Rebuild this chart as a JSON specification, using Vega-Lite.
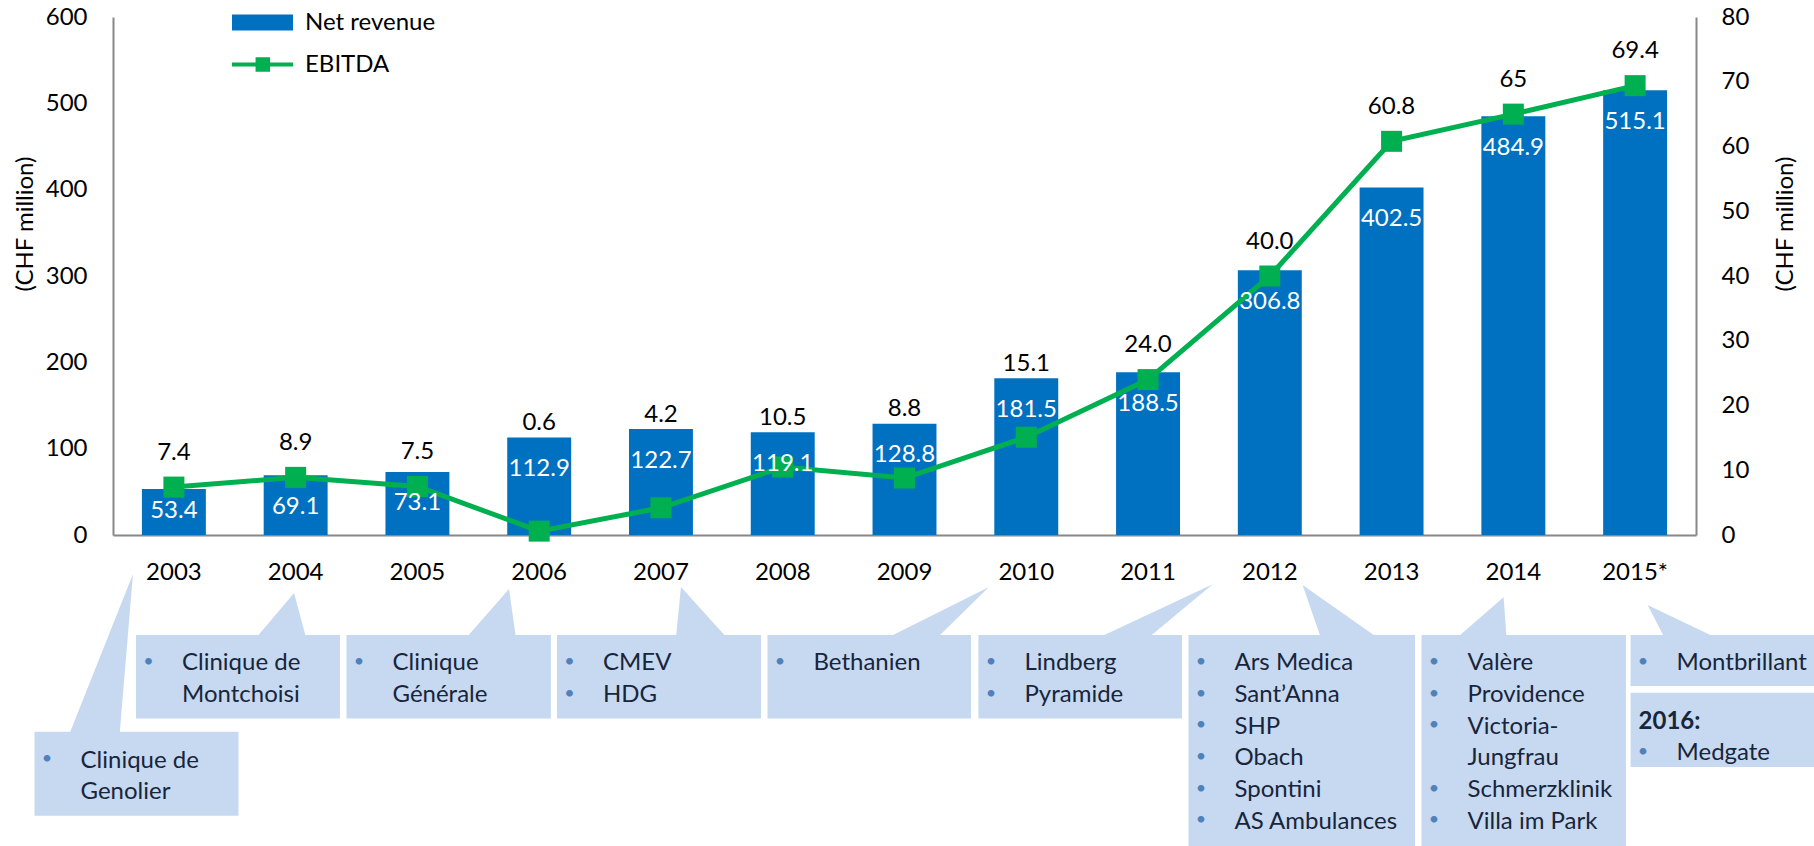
{
  "$schema": "https://vega.github.io/schema/vega-lite/v6.json",
  "width": 1583,
  "height": 829,
  "autosize": {"type": "none"},
  "padding": {"left": 113, "top": 17, "right": 118, "bottom": 0},
  "background": "white",
  "config": {
    "view": {"stroke": null},
    "font": "Lato",
    "axis": {"grid": false, "titleFontSize": 24},
    "text": {"font": "Lato"}
  },
  "datasets": {
    "fin": [
      {"year": "2003", "revenue": 53.4, "ebitda": 7.4, "elabel": "7.4"},
      {"year": "2004", "revenue": 69.1, "ebitda": 8.9, "elabel": "8.9"},
      {"year": "2005", "revenue": 73.1, "ebitda": 7.5, "elabel": "7.5"},
      {"year": "2006", "revenue": 112.9, "ebitda": 0.6, "elabel": "0.6"},
      {"year": "2007", "revenue": 122.7, "ebitda": 4.2, "elabel": "4.2"},
      {"year": "2008", "revenue": 119.1, "ebitda": 10.5, "elabel": "10.5"},
      {"year": "2009", "revenue": 128.8, "ebitda": 8.8, "elabel": "8.8"},
      {"year": "2010", "revenue": 181.5, "ebitda": 15.1, "elabel": "15.1"},
      {"year": "2011", "revenue": 188.5, "ebitda": 24.0, "elabel": "24.0"},
      {"year": "2012", "revenue": 306.8, "ebitda": 40.0, "elabel": "40.0"},
      {"year": "2013", "revenue": 402.5, "ebitda": 60.8, "elabel": "60.8"},
      {"year": "2014", "revenue": 484.9, "ebitda": 65, "elabel": "65"},
      {"year": "2015*", "revenue": 515.1, "ebitda": 69.4, "elabel": "69.4"}
    ],
    "boxes": [
      {"group": "2003", "c0": -0.482, "c1": 0.487, "r0": 6.21, "r1": 8.86},
      {"group": "2004", "c0": 0, "c1": 0.969, "r0": 3.155, "r1": 5.79},
      {"group": "2006", "c0": 1.0, "c1": 1.971, "r0": 3.155, "r1": 5.79},
      {"group": "2007", "c0": 2.0, "c1": 2.969, "r0": 3.155, "r1": 5.79},
      {"group": "2010", "c0": 3.0, "c1": 3.967, "r0": 3.155, "r1": 5.79},
      {"group": "2011", "c0": 4.002, "c1": 4.969, "r0": 3.155, "r1": 5.79},
      {"group": "2012", "c0": 5.0, "c1": 6.076, "r0": 3.155, "r1": 10},
      {"group": "2014", "c0": 6.107, "c1": 7.078, "r0": 3.155, "r1": 10},
      {"group": "2015", "c0": 7.1, "c1": 8.2, "r0": 3.155, "r1": 4.76},
      {"group": "2016", "c0": 7.1, "c1": 8.2, "r0": 4.98, "r1": 7.32}
    ],
    "pointers": [
      {"group": "2003", "r": 1.23, "c0": -0.0143, "c1": -0.0143},
      {"group": "2003", "r": 6.3, "c0": -0.318, "c1": -0.078},
      {"group": "2004", "r": 1.83, "c0": 0.751, "c1": 0.751},
      {"group": "2004", "r": 3.25, "c0": 0.570, "c1": 0.808},
      {"group": "2006", "r": 1.70, "c0": 1.772, "c1": 1.772},
      {"group": "2006", "r": 3.25, "c0": 1.568, "c1": 1.805},
      {"group": "2007", "r": 1.64, "c0": 2.589, "c1": 2.589},
      {"group": "2007", "r": 3.25, "c0": 2.565, "c1": 2.808},
      {"group": "2010", "r": 1.64, "c0": 4.052, "c1": 4.052},
      {"group": "2010", "r": 3.25, "c0": 3.568, "c1": 3.805},
      {"group": "2011", "r": 1.55, "c0": 5.115, "c1": 5.115},
      {"group": "2011", "r": 3.25, "c0": 4.570, "c1": 4.808},
      {"group": "2012", "r": 1.58, "c0": 5.542, "c1": 5.542},
      {"group": "2012", "r": 3.25, "c0": 5.629, "c1": 5.900},
      {"group": "2014", "r": 1.96, "c0": 6.497, "c1": 6.497},
      {"group": "2014", "r": 3.25, "c0": 6.274, "c1": 6.511},
      {"group": "2015", "r": 2.21, "c0": 7.181, "c1": 7.181},
      {"group": "2015", "r": 3.25, "c0": 7.262, "c1": 7.509}
    ],
    "items": [
      {"group": "2003", "c": -0.482, "r": 7.08, "kind": "item", "text": "Clinique de"},
      {"group": "2003", "c": -0.482, "r": 8.07, "kind": "cont", "text": "Genolier"},
      {"group": "2004", "c": 0, "r": 4, "kind": "item", "text": "Clinique de"},
      {"group": "2004", "c": 0, "r": 5, "kind": "cont", "text": "Montchoisi"},
      {"group": "2006", "c": 1.0, "r": 4, "kind": "item", "text": "Clinique"},
      {"group": "2006", "c": 1.0, "r": 5, "kind": "cont", "text": "Générale"},
      {"group": "2007", "c": 2.0, "r": 4, "kind": "item", "text": "CMEV"},
      {"group": "2007", "c": 2.0, "r": 5, "kind": "item", "text": "HDG"},
      {"group": "2010", "c": 3.0, "r": 4, "kind": "item", "text": "Bethanien"},
      {"group": "2011", "c": 4.002, "r": 4, "kind": "item", "text": "Lindberg"},
      {"group": "2011", "c": 4.002, "r": 5, "kind": "item", "text": "Pyramide"},
      {"group": "2012", "c": 5.0, "r": 4, "kind": "item", "text": "Ars Medica"},
      {"group": "2012", "c": 5.0, "r": 5, "kind": "item", "text": "Sant’Anna"},
      {"group": "2012", "c": 5.0, "r": 6, "kind": "item", "text": "SHP"},
      {"group": "2012", "c": 5.0, "r": 7, "kind": "item", "text": "Obach"},
      {"group": "2012", "c": 5.0, "r": 8, "kind": "item", "text": "Spontini"},
      {"group": "2012", "c": 5.0, "r": 9, "kind": "item", "text": "AS Ambulances"},
      {"group": "2014", "c": 6.107, "r": 4, "kind": "item", "text": "Valère"},
      {"group": "2014", "c": 6.107, "r": 5, "kind": "item", "text": "Providence"},
      {"group": "2014", "c": 6.107, "r": 6, "kind": "item", "text": "Victoria-"},
      {"group": "2014", "c": 6.107, "r": 7, "kind": "cont", "text": "Jungfrau"},
      {"group": "2014", "c": 6.107, "r": 8, "kind": "item", "text": "Schmerzklinik"},
      {"group": "2014", "c": 6.107, "r": 9, "kind": "item", "text": "Villa im Park"},
      {"group": "2015", "c": 7.1, "r": 4, "kind": "item", "text": "Montbrillant"},
      {"group": "2016", "c": 7.1, "r": 5.84, "kind": "header", "text": "2016:"},
      {"group": "2016", "c": 7.1, "r": 6.84, "kind": "item", "text": "Medgate"}
    ]
  },
  "layer": [
    {
      "data": {"name": "fin"},
      "encoding": {
        "x": {
          "field": "year", "type": "ordinal", "sort": null,
          "scale": {"type": "band", "paddingInner": 0.475, "paddingOuter": 0.2375},
          "axis": {
            "title": null, "orient": "bottom", "offset": -311,
            "domainColor": "#888888", "domainWidth": 2, "ticks": false,
            "labelFontSize": 24, "labelColor": "#000000", "labelPadding": 25,
            "labelAngle": 0, "labelFont": "Lato"
          }
        },
        "y": {
          "field": "revenue", "type": "quantitative",
          "scale": {"domain": [0, 600], "range": [518, 0], "nice": false},
          "axis": {
            "values": [0, 100, 200, 300, 400, 500, 600],
            "domainColor": "#888888", "domainWidth": 2, "ticks": false,
            "labelFontSize": 24, "labelColor": "#000000", "labelPadding": 26, "labelFont": "Lato",
            "title": "(CHF million)", "titleFont": "Lato", "titleFontSize": 24, "titleFontWeight": "normal",
            "titleColor": "#000000", "titleAngle": 270, "titleX": -88, "titleY": 206.5,
            "titleAlign": "center", "titleBaseline": "middle"
          }
        }
      },
      "layer": [
        {
          "mark": {"type": "bar"},
          "encoding": {
            "color": {
              "datum": "Net revenue",
              "scale": {"domain": ["Net revenue", "EBITDA"], "range": ["#0070C0", "#00B050"]},
              "legend": {
                "orient": "none", "legendX": 119, "legendY": -6.5, "direction": "vertical",
                "title": null, "padding": 0, "labelFontSize": 24, "labelFont": "Lato",
                "labelColor": "#000000", "symbolSize": 576, "labelOffset": 49,
                "rowPadding": 18, "symbolStrokeWidth": 0,
                "encode": {
                  "symbols": {
                    "update": {
                      "shape": {"signal": "datum.value === 'EBITDA' ? 'M-1,-0.167H4.083V0.167H-1Z M0.963,-0.604H2.171V0.604H0.963Z' : 'M-1,-0.667H4.083V0.667H-1Z'"},
                      "fill": {"signal": "datum.value === 'EBITDA' ? '#00B050' : '#0070C0'"},
                      "stroke": {"value": "transparent"},
                      "strokeWidth": {"value": 0},
                      "opacity": {"value": 1},
                      "size": {"value": 576}
                    }
                  }
                }
              }
            }
          }
        },
        {
          "transform": [{"filter": "datum.revenue * 0.86333 >= datum.ebitda * 6.475 + 20"}],
          "mark": {"type": "text", "color": "#000000", "fontSize": 24, "baseline": "middle", "align": "center", "dy": -14.5},
          "encoding": {"text": {"field": "elabel"}}
        }
      ]
    },
    {
      "data": {"name": "fin"},
      "encoding": {
        "x": {
          "field": "year", "type": "ordinal", "sort": null,
          "scale": {"type": "band", "paddingInner": 0.475, "paddingOuter": 0.2375},
          "axis": null
        },
        "y": {
          "field": "ebitda", "type": "quantitative",
          "scale": {"domain": [0, 80], "range": [518, 0], "nice": false},
          "axis": {
            "orient": "right",
            "values": [0, 10, 20, 30, 40, 50, 60, 70, 80],
            "domainColor": "#888888", "domainWidth": 2, "ticks": false,
            "labelFontSize": 24, "labelColor": "#000000", "labelPadding": 25, "labelFont": "Lato",
            "title": "(CHF million)", "titleFont": "Lato", "titleFontSize": 24, "titleFontWeight": "normal",
            "titleColor": "#000000", "titleAngle": 270, "titleX": 89, "titleY": 206.5,
            "titleAlign": "center", "titleBaseline": "middle"
          }
        }
      },
      "layer": [
        {
          "mark": {"type": "line", "strokeWidth": 5},
          "encoding": {"color": {"datum": "EBITDA"}}
        },
        {
          "mark": {"type": "point", "shape": "square", "filled": true, "size": 441, "opacity": 1},
          "encoding": {"color": {"datum": "EBITDA"}}
        },
        {
          "transform": [{"filter": "datum.revenue * 0.86333 < datum.ebitda * 6.475 + 20"}],
          "mark": {"type": "text", "color": "#000000", "fontSize": 24, "baseline": "middle", "align": "center", "dy": -34.5},
          "encoding": {"text": {"field": "elabel"}}
        }
      ]
    },
    {
      "data": {"name": "fin"},
      "mark": {
        "type": "text", "color": "#FFFFFF", "fontSize": 24, "baseline": "middle", "align": "center",
        "dy": {"expr": "datum.revenue < 60 ? 22.5 : 31.5"}
      },
      "encoding": {
        "x": {
          "field": "year", "type": "ordinal", "sort": null,
          "scale": {"type": "band", "paddingInner": 0.475, "paddingOuter": 0.2375},
          "axis": null
        },
        "y": {
          "field": "revenue", "type": "quantitative",
          "scale": {"domain": [0, 600], "range": [518, 0], "nice": false},
          "axis": null
        },
        "text": {"field": "revenue", "type": "quantitative", "format": ".1f"}
      }
    },
    {
      "layer": [
        {
          "data": {"name": "pointers"},
          "mark": {"type": "area", "orient": "horizontal", "color": "#C6D9F1", "opacity": 1},
          "encoding": {
            "y": {"field": "r", "type": "quantitative", "scale": {"domain": [0, 10], "range": [518, 835], "nice": false, "zero": false}, "axis": null},
            "x": {"field": "c0", "type": "quantitative", "stack": null, "scale": {"domain": [0, 8], "range": [23, 1707], "nice": false, "zero": false}, "axis": null},
            "x2": {"field": "c1"},
            "detail": {"field": "group"}
          }
        },
        {
          "data": {"name": "boxes"},
          "mark": {"type": "rect", "color": "#C6D9F1"},
          "encoding": {
            "x": {"field": "c0", "type": "quantitative", "axis": null},
            "x2": {"field": "c1"},
            "y": {"field": "r0", "type": "quantitative", "axis": null},
            "y2": {"field": "r1"}
          }
        },
        {
          "data": {"name": "items"},
          "transform": [{"filter": "datum.kind === 'item'"}],
          "mark": {"type": "text", "text": "•", "fontSize": 18, "color": "#4F81BD", "align": "center", "baseline": "middle", "dx": 12.5},
          "encoding": {
            "x": {"field": "c", "type": "quantitative", "axis": null},
            "y": {"field": "r", "type": "quantitative", "axis": null}
          }
        },
        {
          "data": {"name": "items"},
          "transform": [{"filter": "datum.kind !== 'header'"}],
          "mark": {"type": "text", "fontSize": 24, "color": "#18253A", "align": "left", "baseline": "middle", "dx": 46, "dy": 1.5},
          "encoding": {
            "x": {"field": "c", "type": "quantitative", "axis": null},
            "y": {"field": "r", "type": "quantitative", "axis": null},
            "text": {"field": "text"}
          }
        },
        {
          "data": {"name": "items"},
          "transform": [{"filter": "datum.kind === 'header'"}],
          "mark": {"type": "text", "fontSize": 24, "fontWeight": "bold", "color": "#18253A", "align": "left", "baseline": "middle", "dx": 8, "dy": 1.5},
          "encoding": {
            "x": {"field": "c", "type": "quantitative", "axis": null},
            "y": {"field": "r", "type": "quantitative", "axis": null},
            "text": {"field": "text"}
          }
        }
      ]
    }
  ],
  "resolve": {"scale": {"x": "independent", "y": "independent"}}
}
